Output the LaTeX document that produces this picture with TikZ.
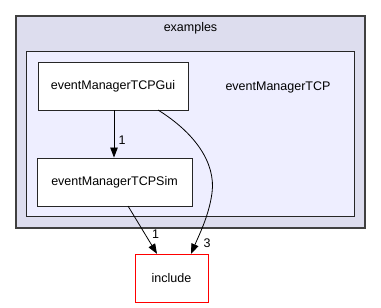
\documentclass[tikz,border=0pt]{standalone}
\usepackage{fontspec}
\setmainfont{Liberation Sans}
\usetikzlibrary{arrows.meta}
\definecolor{outerfill}{HTML}{DDDDEE}
\definecolor{innerfill}{HTML}{EEEEFF}
\definecolor{outerline}{HTML}{404040}
\definecolor{incred}{HTML}{FF0000}
\tikzset{
  lbl/.style={font=\fontsize{12.5}{14}\selectfont, inner sep=0pt},
  dirbox/.style={draw=black!85, fill=white, line width=0.9pt, lbl},
  dep/.style={draw=black, line width=0.8pt, -{Triangle[length=10pt,width=7.5pt]}},
}
\begin{document}
\begin{tikzpicture}[x=1pt,y=-1pt]
\useasboundingbox (0,0) rectangle (381,308);
\fill[white] (0,0) rectangle (381,308);
% outer cluster
\draw[fill=outerfill, draw=outerline, line width=1.6pt] (16,16) rectangle (365,228);
\node[lbl] (examples) at (190.5,28) {examples};
% inner cluster
\draw[fill=innerfill, draw=black!85, line width=1.2pt] (26.5,51.5) rectangle (354.5,216.5);
\node[lbl] (emtcp) at (278,87) {eventManagerTCP};
% nodes
\node[dirbox, minimum width=150pt, minimum height=48pt] (gui) at (113,86) {eventManagerTCPGui};
\node[dirbox, minimum width=155pt, minimum height=48pt] (sim) at (114.5,182) {eventManagerTCPSim};
\node[draw=incred, line width=0.9pt, fill=white, lbl, minimum width=73pt, minimum height=48pt] (inc) at (171.5,278.3) {include};
% edges
\draw[dep] (gui.south -| 114,0) -- (sim.north -| 114,0);
\node[lbl] (l1) at (122,140) {1};
\draw[dep] (128,206) -- (inc.north -| 157,0);
\node[lbl] (l2) at (155.5,234) {1};
\draw[dep] (158,110) .. controls (195,133) and (216,163) .. (212,193) .. controls (209,215) and (200,233) .. (inc.north -| 191,0);
\node[lbl] (l3) at (207,243) {3};
\end{tikzpicture}
\end{document}
